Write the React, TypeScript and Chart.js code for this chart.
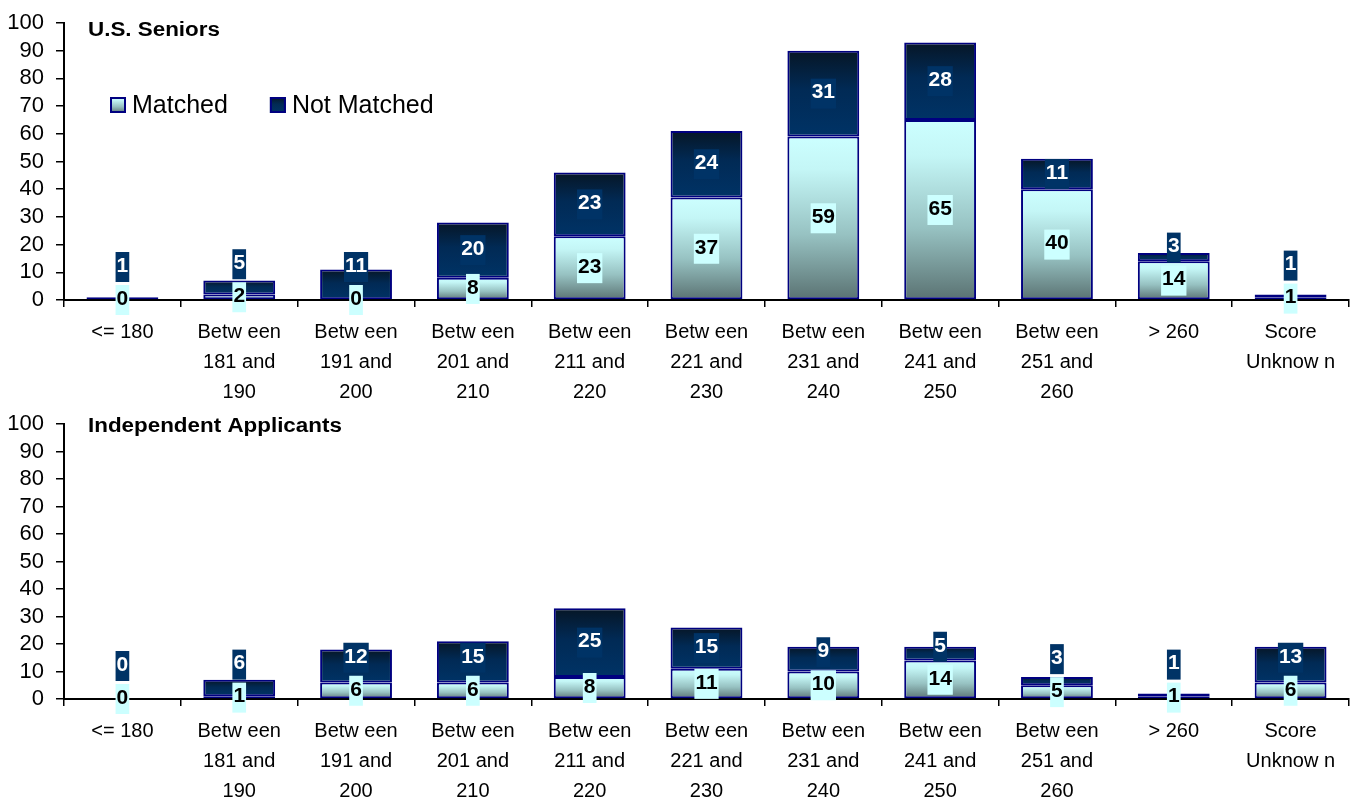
import React, { useEffect, useRef } from 'react';
import { Chart, registerables } from 'chart.js';

Chart.register(...registerables);

// ---------- data ----------
const categories: string[][] = [
  ['<= 180'],
  ['Betw een', '181 and', '190'],
  ['Betw een', '191 and', '200'],
  ['Betw een', '201 and', '210'],
  ['Betw een', '211 and', '220'],
  ['Betw een', '221 and', '230'],
  ['Betw een', '231 and', '240'],
  ['Betw een', '241 and', '250'],
  ['Betw een', '251 and', '260'],
  ['> 260'],
  ['Score', 'Unknow n'],
];
const seriesNames = ['Matched', 'Not Matched'];
const seniorsMatched = [0, 2, 0, 8, 23, 37, 59, 65, 40, 14, 1];
const seniorsNotMatched = [1, 5, 11, 20, 23, 24, 31, 28, 11, 3, 1];
const independentMatched = [0, 1, 6, 6, 8, 11, 10, 14, 5, 1, 6];
const independentNotMatched = [0, 6, 12, 15, 25, 15, 9, 5, 3, 1, 13];
const yMin = 0;
const yMax = 100;
const yStep = 10;
const panelTitles = ['U.S. Seniors', 'Independent Applicants'];

// ---------- style ----------
const FAMILY = '"Liberation Sans", Arial, Helvetica, sans-serif';
const CANVAS_W = 1354;
const CANVAS_H = 401;
const NAVY = '#000080';
const LABEL_DARK = '#003366';
const LABEL_LIGHT = '#CCFFFF';

function matchedGradient(ctx: CanvasRenderingContext2D, top: number, bottom: number) {
  const g = ctx.createLinearGradient(0, top, 0, bottom);
  g.addColorStop(0, '#CCFFFF');
  g.addColorStop(0.2, '#C4F6F6');
  g.addColorStop(0.6, '#97C2C2');
  g.addColorStop(1, '#5A7272');
  return g;
}
function notMatchedGradient(ctx: CanvasRenderingContext2D, top: number, bottom: number) {
  const g = ctx.createLinearGradient(0, top, 0, bottom);
  g.addColorStop(0, '#061626');
  g.addColorStop(0.45, '#012a55');
  g.addColorStop(1, '#003366');
  return g;
}

function segmentFill(c: any, which: number) {
  const chart = c.chart;
  if (!chart.chartArea || c.type !== 'data') return which === 0 ? '#9CCACA' : '#02284f';
  const i = c.dataIndex;
  const m = chart.data.datasets[0].data[i] as number;
  const n = chart.data.datasets[1].data[i] as number;
  const ys = chart.scales.y;
  let top: number, bottom: number;
  if (which === 0) {
    bottom = ys.getPixelForValue(0);
    top = ys.getPixelForValue(m);
  } else {
    bottom = ys.getPixelForValue(m);
    top = ys.getPixelForValue(m + n);
  }
  if (bottom - top < 1) top = bottom - 1;
  return which === 0 ? matchedGradient(chart.ctx, top, bottom) : notMatchedGradient(chart.ctx, top, bottom);
}

const labelsPlugin = {
  id: 'segmentLabels',
  afterDatasetsDraw(chart: any) {
    const ctx: CanvasRenderingContext2D = chart.ctx;
    const ys = chart.scales.y;
    const m = chart.data.datasets[0].data as number[];
    const n = chart.data.datasets[1].data as number[];
    const meta = chart.getDatasetMeta(0);
    const h = 30;
    ctx.save();
    ctx.font = `bold 21px ${FAMILY}`;
    ctx.textAlign = 'center';
    ctx.textBaseline = 'middle';
    m.forEach((mv, i) => {
      const x = meta.data[i].x;
      const c0 = ys.getPixelForValue(mv / 2);
      let c1 = ys.getPixelForValue(mv + n[i] / 2);
      const limit = c0 - h - 3;
      if (c1 > limit) c1 = limit;
      const t0 = String(mv);
      const t1 = String(n[i]);
      const w0 = ctx.measureText(t0).width + 2;
      const w1 = ctx.measureText(t1).width + 2;
      ctx.fillStyle = LABEL_LIGHT;
      ctx.fillRect(x - w0 / 2, c0 - h / 2, w0, h);
      ctx.fillStyle = '#000';
      ctx.fillText(t0, x, c0 - 1);
      ctx.fillStyle = LABEL_DARK;
      ctx.fillRect(x - w1 / 2, c1 - h / 2, w1, h);
      ctx.fillStyle = '#fff';
      ctx.fillText(t1, x, c1 - 1);
    });
    ctx.restore();
  },
};

function makeTitlePlugin(title: string, titleY: number) {
  return {
    id: 'panelTitle',
    afterDraw(chart: any) {
      const ctx: CanvasRenderingContext2D = chart.ctx;
      ctx.save();
      ctx.font = `bold 20px ${FAMILY}`;
      ctx.fillStyle = '#000';
      ctx.textAlign = 'left';
      ctx.textBaseline = 'middle';
      const x = chart.chartArea.left + 24;
      ctx.translate(x, titleY);
      ctx.scale(1.12, 1);
      ctx.fillText(title, 0, 0);
      ctx.restore();
    },
  };
}

const legendPlugin = {
  id: 'insideLegend',
  afterDraw(chart: any) {
    const ctx: CanvasRenderingContext2D = chart.ctx;
    const area = chart.chartArea;
    let x = area.left + 46;
    const y = area.top + 74;
    const box = 16;
    ctx.save();
    ctx.font = `25px ${FAMILY}`;
    ctx.textBaseline = 'middle';
    ctx.textAlign = 'left';
    chart.data.datasets.forEach((ds: any, k: number) => {
      ctx.fillStyle = k === 0 ? matchedGradient(ctx, y, y + box) : notMatchedGradient(ctx, y, y + box);
      ctx.fillRect(x, y, box, box);
      ctx.strokeStyle = NAVY;
      ctx.lineWidth = 2;
      ctx.strokeRect(x + 1, y + 1, box - 2, box - 2);
      x += box + 6;
      ctx.fillStyle = '#000';
      ctx.fillText(ds.label, x, y + box / 2 + 1);
      x += ctx.measureText(ds.label).width + 42;
    });
    ctx.restore();
  },
};

type PanelProps = {
  title: string;
  matched: number[];
  notMatched: number[];
  showLegend: boolean;
  areaTop: number;
  areaBottom: number;
  titleY: number;
};

function StackedPanel({ title, matched, notMatched, showLegend, areaTop, areaBottom, titleY }: PanelProps) {
  const ref = useRef<HTMLCanvasElement>(null);
  useEffect(() => {
    const canvas = ref.current;
    if (!canvas) return;
    const plugins: any[] = [labelsPlugin, makeTitlePlugin(title, titleY)];
    if (showLegend) plugins.push(legendPlugin);
    const chart = new Chart(canvas, {
      type: 'bar',
      data: {
        labels: categories,
        datasets: [
          {
            label: seriesNames[0],
            data: matched,
            backgroundColor: (c: any) => segmentFill(c, 0),
            borderColor: NAVY,
            borderWidth: 2,
            borderSkipped: false,
            categoryPercentage: 1,
            barPercentage: 0.615,
          },
          {
            label: seriesNames[1],
            data: notMatched,
            backgroundColor: (c: any) => segmentFill(c, 1),
            borderColor: NAVY,
            borderWidth: 2,
            borderSkipped: false,
            categoryPercentage: 1,
            barPercentage: 0.615,
          },
        ],
      },
      options: {
        responsive: false,
        animation: false,
        devicePixelRatio: 1,
        layout: { padding: { top: areaTop, right: 5, left: 0, bottom: 0 } },
        plugins: {
          legend: { display: false },
          tooltip: { enabled: false },
          title: { display: false },
        },
        scales: {
          x: {
            stacked: true,
            offset: true,
            grid: {
              drawOnChartArea: false,
              offset: true,
              drawTicks: true,
              tickLength: 7,
              color: '#000',
              lineWidth: 1.5,
            },
            border: { display: true, color: '#000', width: 2 },
            ticks: {
              color: '#000',
              font: { family: FAMILY, size: 20, lineHeight: 1.5 },
              padding: 10,
              maxRotation: 0,
              minRotation: 0,
              autoSkip: false,
            },
            afterFit: (s: any) => {
              s.height = CANVAS_H - areaBottom;
            },
          },
          y: {
            stacked: true,
            min: yMin,
            max: yMax,
            ticks: {
              stepSize: yStep,
              autoSkip: false,
              color: '#000',
              font: { family: FAMILY, size: 22, lineHeight: 1 },
              padding: 12,
            },
            grid: {
              drawOnChartArea: false,
              drawTicks: true,
              tickLength: 8,
              color: '#000',
              lineWidth: 1.5,
            },
            border: { display: true, color: '#000', width: 2 },
            afterFit: (s: any) => {
              s.width = 64;
            },
          },
        },
      } as any,
      plugins,
    });
    return () => chart.destroy();
  }, [title, matched, notMatched, showLegend, areaTop, areaBottom, titleY]);
  return <canvas ref={ref} width={CANVAS_W} height={CANVAS_H} style={{ display: 'block', width: CANVAS_W, height: CANVAS_H }} />;
}

export default function App() {
  return (
    <div style={{ position: 'absolute', left: 0, top: 0, width: 1354, height: 802, background: '#fff' }}>
      <StackedPanel
        title={panelTitles[0]}
        matched={seniorsMatched}
        notMatched={seniorsNotMatched}
        showLegend={true}
        areaTop={20}
        areaBottom={300}
        titleY={30}
      />
      <StackedPanel
        title={panelTitles[1]}
        matched={independentMatched}
        notMatched={independentNotMatched}
        showLegend={false}
        areaTop={20}
        areaBottom={298}
        titleY={25}
      />
    </div>
  );
}
